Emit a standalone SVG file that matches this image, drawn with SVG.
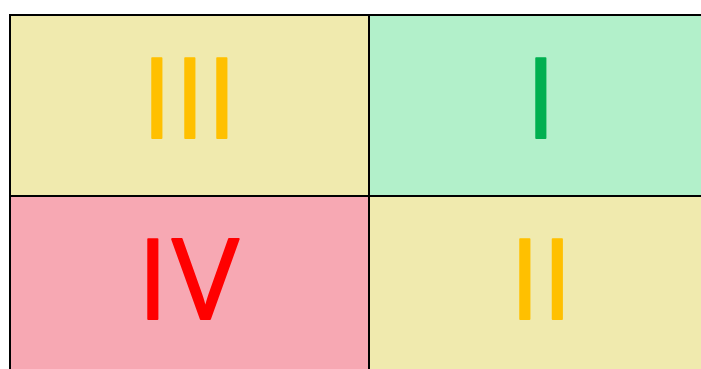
<svg xmlns="http://www.w3.org/2000/svg" width="701" height="369" viewBox="0 0 701 369">
<style>
.cell{stroke:#000;stroke-width:2}
.y{fill:#F0EAAE}
.g{fill:#B2F0CA}
.p{fill:#F7A8B3}
.num{font-size:112px;text-anchor:middle;stroke-width:1.8;stroke-linejoin:round}
.gold{fill:#FFC000;stroke:#FFC000}
.grn{fill:#00B050;stroke:#00B050}
.red{fill:#FF0000;stroke:#FF0000}
</style>
<rect width="701" height="369" fill="#fff"/>
<g id="q3">
<rect class="cell y" x="10" y="15" width="359" height="181"/>
<text class="num gold" font-family="Open Sans, Noto Sans, DejaVu Sans, sans-serif" x="157 190 222" y="138">III</text>
</g>
<g id="q1">
<rect class="cell g" x="369" y="15" width="359" height="181"/>
<text class="num grn" font-family="Open Sans, Noto Sans, DejaVu Sans, sans-serif" x="541" y="138">I</text>
</g>
<g id="q4">
<rect class="cell p" x="10" y="196" width="359" height="181"/>
<text class="num red" font-family="Open Sans, Noto Sans, DejaVu Sans, sans-serif" x="153 205.5" y="319">IV</text>
</g>
<g id="q2">
<rect class="cell y" x="369" y="196" width="359" height="181"/>
<text class="num gold" font-family="Open Sans, Noto Sans, DejaVu Sans, sans-serif" x="525 557.5" y="319">II</text>
</g>
</svg>
